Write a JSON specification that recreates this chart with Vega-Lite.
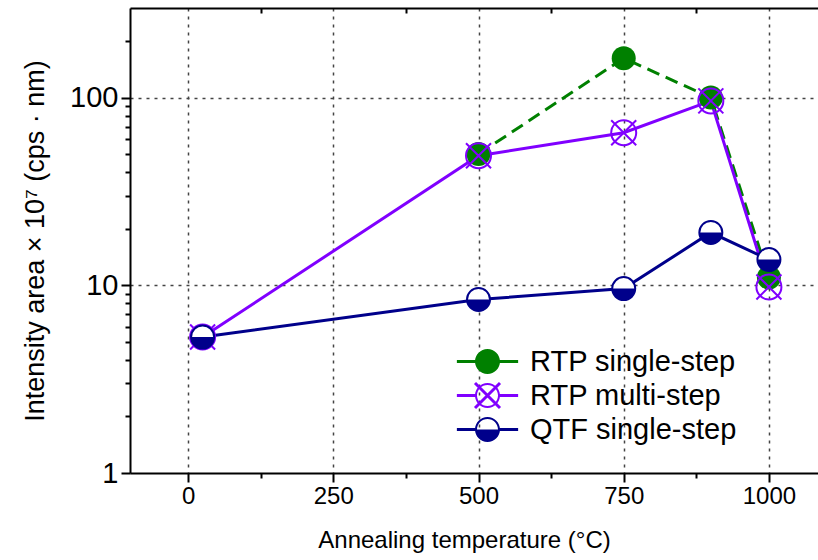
{
  "$schema": "https://vega.github.io/schema/vega-lite/v6.json",
  "width": 697,
  "height": 465,
  "autosize": {"type": "none"},
  "padding": {"left": 130, "top": 8, "right": 0, "bottom": 87},
  "background": "white",
  "config": {
    "view": {"stroke": null},
    "font": "Liberation Sans",
    "axis": {
      "domainColor": "black",
      "domainWidth": 2,
      "tickColor": "black",
      "labelColor": "black",
      "titleColor": "black",
      "labelFont": "Liberation Sans",
      "titleFont": "Liberation Sans",
      "titleFontWeight": "normal",
      "labelFontSize": 29,
      "titleFontSize": 24
    }
  },
  "data": {
    "values": [
      {"series": "RTP single-step", "temp": 500, "value": 50},
      {"series": "RTP single-step", "temp": 750, "value": 162},
      {"series": "RTP single-step", "temp": 900, "value": 100},
      {"series": "RTP single-step", "temp": 1000, "value": 11},
      {"series": "RTP multi-step", "temp": 25, "value": 5.3},
      {"series": "RTP multi-step", "temp": 500, "value": 49},
      {"series": "RTP multi-step", "temp": 750, "value": 65},
      {"series": "RTP multi-step", "temp": 900, "value": 96},
      {"series": "RTP multi-step", "temp": 1000, "value": 9.8},
      {"series": "QTF single-step", "temp": 25, "value": 5.3},
      {"series": "QTF single-step", "temp": 500, "value": 8.4},
      {"series": "QTF single-step", "temp": 750, "value": 9.6},
      {"series": "QTF single-step", "temp": 900, "value": 19.1},
      {"series": "QTF single-step", "temp": 1000, "value": 13.7}
    ]
  },
  "resolve": {"axis": {"x": "independent", "y": "independent"}},
  "layer": [
    {
      "transform": [{"filter": "datum.series == 'RTP single-step'"}],
      "mark": {"type": "line", "color": "#008000", "strokeWidth": 3, "strokeDash": [13, 7]},
      "encoding": {
        "x": {
          "field": "temp", "type": "quantitative",
          "scale": {"domain": [-100, 1100], "nice": false, "zero": false},
          "axis": {
            "orient": "bottom",
            "values": [0, 125, 250, 375, 500, 625, 750, 875, 1000],
            "format": "d",
            "labelFontSize": 24,
            "labelExpr": "datum.value % 250 == 0 ? datum.label : ''",
            "grid": true,
            "gridColor": "#444444",
            "gridWidth": 1.5,
            "gridDash": [3, 5],
            "gridOpacity": {"condition": {"test": "datum.value % 250 == 0", "value": 1}, "value": 0},
            "tickSize": {"condition": {"test": "datum.value % 250 == 0", "value": 9}, "value": 5},
            "tickWidth": 2,
            "labelPadding": 2,
            "labelFlush": false,
            "labelOverlap": false,
            "title": "Annealing temperature (°C)",
            "titleX": 334,
            "titlePadding": 20
          }
        },
        "y": {
          "field": "value", "type": "quantitative",
          "scale": {"type": "log", "domain": [1, 300], "nice": false},
          "axis": {
            "orient": "left",
            "values": [1, 2, 3, 4, 5, 6, 7, 8, 9, 10, 20, 30, 40, 50, 60, 70, 80, 90, 100, 200],
            "format": "d",
            "labelExpr": "(datum.value == 1 || datum.value == 10 || datum.value == 100) ? datum.label : ''",
            "grid": true,
            "gridColor": "#444444",
            "gridWidth": 1.5,
            "gridDash": [3, 5],
            "gridOpacity": {"condition": {"test": "datum.value == 10 || datum.value == 100", "value": 1}, "value": 0},
            "tickSize": {"condition": {"test": "datum.value == 1 || datum.value == 10 || datum.value == 100", "value": 9}, "value": 5},
            "tickWidth": 2,
            "labelPadding": 3,
            "labelFlush": false,
            "labelOverlap": false,
            "title": "Intensity area × 10⁷ (cps · nm)",
            "titleFontSize": 27,
            "titlePadding": 20
          }
        }
      }
    },
    {
      "transform": [{"filter": "datum.series == 'RTP multi-step'"}],
      "mark": {"type": "line", "color": "#8000ff", "strokeWidth": 3},
      "encoding": {
        "x": {"field": "temp", "type": "quantitative", "axis": null},
        "y": {"field": "value", "type": "quantitative", "axis": null}
      }
    },
    {
      "transform": [{"filter": "datum.series == 'QTF single-step'"}],
      "mark": {"type": "line", "color": "#00008b", "strokeWidth": 3},
      "encoding": {
        "x": {"field": "temp", "type": "quantitative", "axis": null},
        "y": {"field": "value", "type": "quantitative", "axis": null}
      }
    },
    {
      "transform": [{"filter": "datum.series == 'RTP single-step'"}],
      "mark": {"type": "point", "shape": "circle", "filled": true, "fill": "#008000", "opacity": 1, "size": 576, "strokeWidth": 0},
      "encoding": {
        "x": {"field": "temp", "type": "quantitative", "axis": null},
        "y": {"field": "value", "type": "quantitative", "axis": null}
      }
    },
    {
      "transform": [{"filter": "datum.series == 'RTP multi-step'"}],
      "mark": {"type": "point", "shape": "M1,0A1,1 0 1,1 -1,0A1,1 0 1,1 1,0Z M-1,-1L1,1M-1,1L1,-1", "filled": false, "stroke": "#8000ff", "strokeWidth": 2, "opacity": 1, "size": 625},
      "encoding": {
        "x": {"field": "temp", "type": "quantitative", "axis": null},
        "y": {"field": "value", "type": "quantitative", "axis": null}
      }
    },
    {
      "transform": [{"filter": "datum.series == 'QTF single-step'"}],
      "mark": {"type": "point", "shape": "circle", "filled": true, "fill": "white", "stroke": "#00008b", "strokeWidth": 2, "opacity": 1, "size": 529},
      "encoding": {
        "x": {"field": "temp", "type": "quantitative", "axis": null},
        "y": {"field": "value", "type": "quantitative", "axis": null}
      }
    },
    {
      "transform": [{"filter": "datum.series == 'QTF single-step'"}],
      "mark": {"type": "point", "shape": "M1,0A1,1 0 0,1 -1,0Z", "filled": true, "fill": "#00008b", "opacity": 1, "size": 529, "strokeWidth": 0},
      "encoding": {
        "x": {"field": "temp", "type": "quantitative", "axis": null},
        "y": {"field": "value", "type": "quantitative", "axis": null}
      }
    },
    {
      "mark": {"type": "point", "filled": true, "opacity": 0, "strokeWidth": 0},
      "encoding": {
        "x": {
          "field": "temp", "type": "quantitative",
          "axis": {
            "orient": "top",
            "values": [125, 375, 625, 875],
            "labels": false,
            "grid": false,
            "tickSize": -5,
            "tickWidth": 2,
            "title": null
          }
        },
        "y": {"field": "value", "type": "quantitative", "axis": null},
        "fill": {
          "field": "series", "type": "nominal",
          "scale": {"domain": ["RTP single-step", "RTP multi-step", "QTF single-step"], "range": ["#008000", "#8000ff", "#00008b"]},
          "legend": {
            "title": null,
            "orient": "none",
            "legendX": 343,
            "legendY": 339,
            "padding": 0,
            "symbolSize": 625,
            "symbolOpacity": 1,
            "symbolStrokeWidth": 0,
            "labelFontSize": 29,
            "labelFont": "Liberation Sans",
            "labelColor": "black",
            "labelLimit": 400,
            "labelOffset": 28,
            "rowPadding": 4
          }
        },
        "shape": {
          "field": "series", "type": "nominal",
          "scale": {
            "domain": ["RTP single-step", "RTP multi-step", "QTF single-step"],
            "range": [
              "M-2.45,-0.12H2.45V0.12H-2.45Z M1,0A1,1 0 1,1 -1,0A1,1 0 1,1 1,0Z",
              "M1,0A1,1 0 1,1 -1,0A1,1 0 1,1 1,0Z M0.84,0A0.84,0.84 0 1,0 -0.84,0A0.84,0.84 0 1,0 0.84,0Z M-0.915,-1.085L1.085,0.915L0.915,1.085L-1.085,-0.915Z M-1.085,0.915L0.915,-1.085L1.085,-0.915L-0.915,1.085Z M-2.45,-0.12H-0.95V0.12H-2.45Z M0.95,-0.12H2.45V0.12H0.95Z",
              "M1,0A1,1 0 1,1 -1,0A1,1 0 1,1 1,0Z M0.84,0A0.84,0.84 0 1,0 -0.84,0A0.84,0.84 0 1,0 0.84,0Z M1,0A1,1 0 0,1 -1,0Z M-2.45,-0.12H-0.95V0.12H-2.45Z M0.95,-0.12H2.45V0.12H0.95Z"
            ]
          },
          "legend": {
            "title": null,
            "orient": "none",
            "legendX": 343,
            "legendY": 339,
            "padding": 0,
            "symbolSize": 625,
            "symbolOpacity": 1,
            "symbolStrokeWidth": 0,
            "labelFontSize": 29,
            "labelFont": "Liberation Sans",
            "labelColor": "black",
            "labelLimit": 400,
            "labelOffset": 28,
            "rowPadding": 4
          }
        }
      }
    }
  ]
}
